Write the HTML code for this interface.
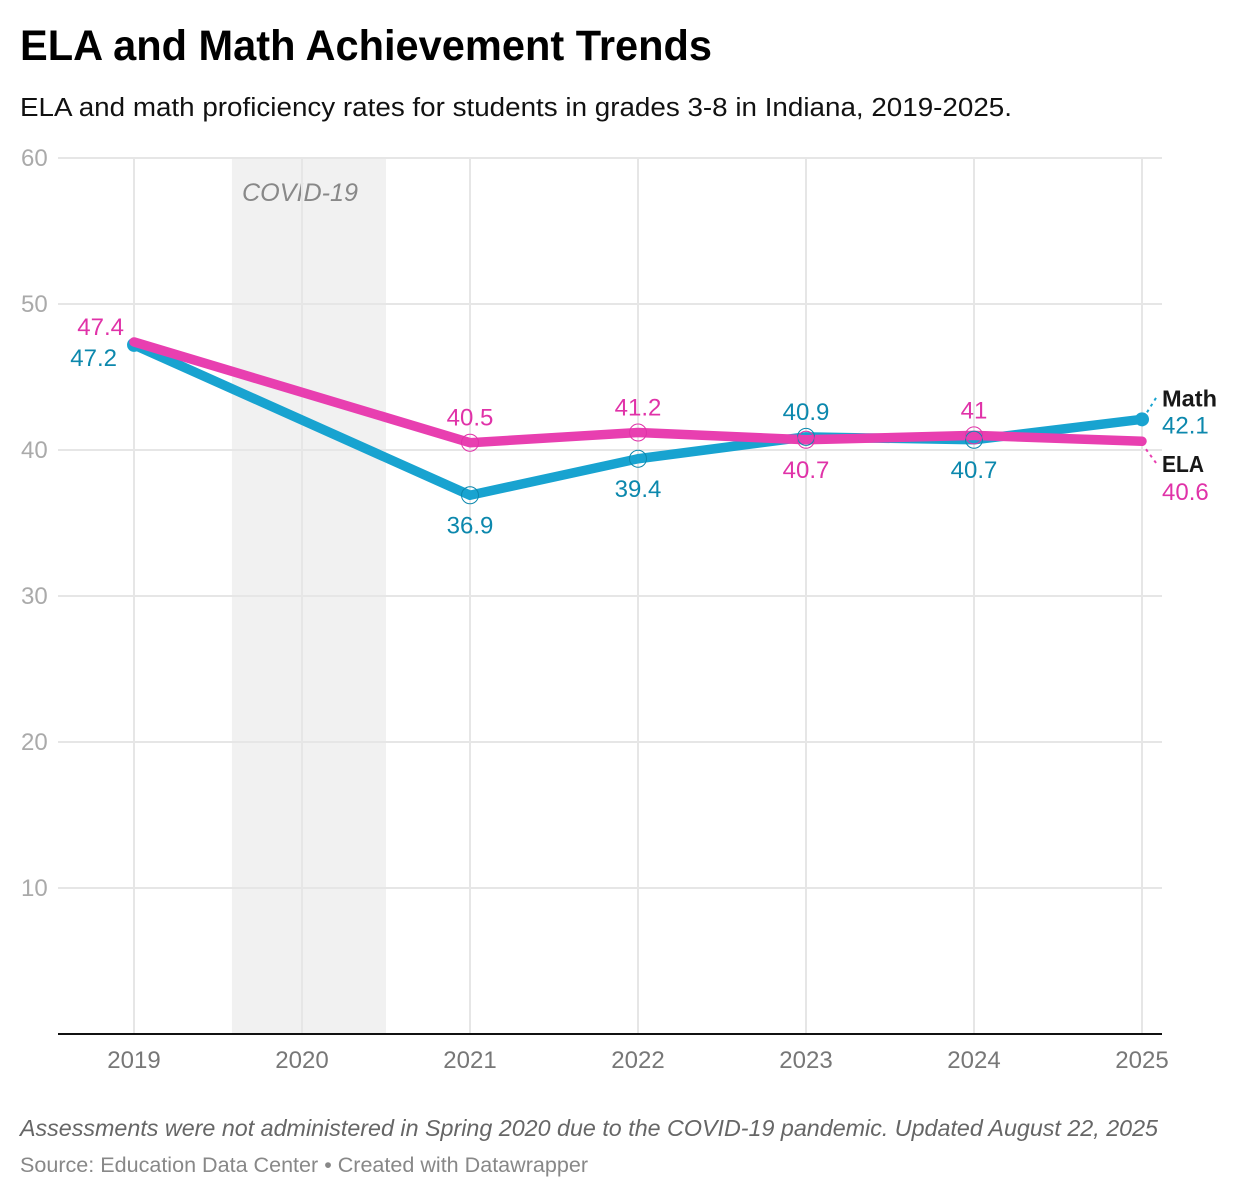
<!DOCTYPE html>
<html lang="en">
<head>
<meta charset="utf-8">
<title>ELA and Math Achievement Trends</title>
<style>
html,body{margin:0;padding:0;background:#fff;width:1238px;height:1198px;overflow:hidden}
svg{display:block}
text{font-family:"Liberation Sans",sans-serif}
</style>
</head>
<body>
<svg id="chart" width="1238" height="1198" viewBox="0 0 1238 1198" xmlns="http://www.w3.org/2000/svg">
  <text x="20" y="60" font-size="43" font-weight="700" fill="#000" textLength="692" lengthAdjust="spacingAndGlyphs">ELA and Math Achievement Trends</text>
  <text x="20" y="116" font-size="25.5" fill="#111" textLength="992" lengthAdjust="spacingAndGlyphs">ELA and math proficiency rates for students in grades 3-8 in Indiana, 2019-2025.</text>
  <g id="plot"></g>
  <text x="20" y="1136" font-size="23.5" font-style="italic" fill="#666" textLength="1138" lengthAdjust="spacingAndGlyphs">Assessments were not administered in Spring 2020 due to the COVID-19 pandemic. Updated August 22, 2025</text>
  <text x="20" y="1172" font-size="21.5" fill="#888" textLength="568" lengthAdjust="spacingAndGlyphs">Source: Education Data Center • Created with Datawrapper</text>
</svg>
<script>
var years = [2019, 2020, 2021, 2022, 2023, 2024, 2025];
var mathValues = [47.2, null, 36.9, 39.4, 40.9, 40.7, 42.1];
var elaValues = [47.4, null, 40.5, 41.2, 40.7, 41, 40.6];
var yTicks = [10, 20, 30, 40, 50, 60];
var covidBand = [2019.583, 2020.5];

var plot = document.getElementById('plot');
var NS = 'http://www.w3.org/2000/svg';
var MATH_LINE = '#18a3d0', MATH_TEXT = '#0c88ad', ELA_LINE = '#e83fb0', ELA_TEXT = '#e032a8';

function xScale(year) { return 134 + (year - 2019) * 168; }
function yScale(value) { return 1034 - value * 14.6; }

function make(tag, attrs, text) {
  var node = document.createElementNS(NS, tag);
  for (var key in attrs) node.setAttribute(key, attrs[key]);
  if (text !== undefined) node.textContent = text;
  plot.appendChild(node);
  return node;
}
var el;

// COVID band
el = make('rect', {x: xScale(covidBand[0]), y: yScale(60), width: xScale(covidBand[1]) - xScale(covidBand[0]), height: yScale(0) - yScale(60), fill: '#f1f1f1'});



el = make('text', {x: 242, y: 201, 'font-size': 25, 'font-style': 'italic', fill: '#888', textLength: 116, lengthAdjust: 'spacingAndGlyphs'}, 'COVID-19');



// Horizontal grid and y ticks
yTicks.forEach(function (tick) {
  el = make('line', {x1: 58, x2: 1162, y1: yScale(tick), y2: yScale(tick), stroke: '#e6e6e6', 'stroke-width': 2});
  
  
  el = make('text', {x: 21, y: yScale(tick) + 8, 'font-size': 24, fill: '#aaa'}, String(tick));
  
  
});

// Vertical grid and x ticks
years.forEach(function (year) {
  el = make('line', {x1: xScale(year), x2: xScale(year), y1: yScale(60), y2: yScale(0), stroke: '#e6e6e6', 'stroke-width': 2});
  
  
  el = make('text', {x: xScale(year), y: 1068, 'font-size': 24, fill: '#777', 'text-anchor': 'middle'}, String(year));
  
  
});

el = make('line', {x1: 58, x2: 1162, y1: yScale(0), y2: yScale(0), stroke: '#111', 'stroke-width': 2});



function linePoints(values) {
  var pts = [];
  values.forEach(function (v, i) {
    if (v !== null) pts.push(xScale(years[i]) + ',' + yScale(v));
  });
  return pts.join(' ');
}

// Math series
el = make('polyline', {points: linePoints(mathValues), fill: 'none', stroke: MATH_LINE, 'stroke-width': 9.5, 'stroke-linejoin': 'round', 'stroke-linecap': 'round'});



el = make('circle', {cx: xScale(years[0]), cy: yScale(mathValues[0]), r: 7, fill: MATH_LINE});



el = make('circle', {cx: xScale(years[6]), cy: yScale(mathValues[6]), r: 7, fill: MATH_LINE});



// ELA series
el = make('polyline', {points: linePoints(elaValues), fill: 'none', stroke: ELA_LINE, 'stroke-width': 9.5, 'stroke-linejoin': 'round', 'stroke-linecap': 'round'});



// Interior hollow markers and value labels
for (var i = 2; i <= 5; i++) {
  var mathAbove = mathValues[i] > elaValues[i];

  el = make('circle', {cx: xScale(years[i]), cy: yScale(mathValues[i]), r: 8.5, fill: 'none', stroke: MATH_TEXT, 'stroke-width': 1});
  
  

  el = make('circle', {cx: xScale(years[i]), cy: yScale(elaValues[i]), r: 8.5, fill: 'none', stroke: ELA_TEXT, 'stroke-width': 1});
  
  

  el = make('text', {x: xScale(years[i]), y: yScale(mathValues[i]) + (mathAbove ? -17 : 38), 'font-size': 24, fill: MATH_TEXT, 'text-anchor': 'middle'}, String(mathValues[i]));
  
  

  el = make('text', {x: xScale(years[i]), y: yScale(elaValues[i]) + (mathAbove ? 38 : -17), 'font-size': 24, fill: ELA_TEXT, 'text-anchor': 'middle'}, String(elaValues[i]));
  
  
}

// 2019 value labels
el = make('text', {x: xScale(years[0]) - 10, y: yScale(elaValues[0]) - 7, 'font-size': 24, fill: ELA_TEXT, 'text-anchor': 'end'}, String(elaValues[0]));



el = make('text', {x: xScale(years[0]) - 17, y: yScale(mathValues[0]) + 21, 'font-size': 24, fill: MATH_TEXT, 'text-anchor': 'end'}, String(mathValues[0]));



// End-of-line leaders and labels
var endX = xScale(years[6]);
var mathEndY = yScale(mathValues[6]);
var elaEndY = yScale(elaValues[6]);

el = make('line', {x1: endX + 5, y1: mathEndY - 7, x2: endX + 15, y2: mathEndY - 23, stroke: MATH_LINE, 'stroke-width': 2, 'stroke-dasharray': '3 4'});



el = make('line', {x1: endX + 4, y1: elaEndY + 8, x2: endX + 15, y2: elaEndY + 23, stroke: ELA_LINE, 'stroke-width': 2, 'stroke-dasharray': '3 4'});



el = make('text', {x: endX + 20, y: mathEndY - 13, 'font-size': 23, 'font-weight': 700, fill: '#181818', textLength: 55, lengthAdjust: 'spacingAndGlyphs'}, 'Math');



el = make('text', {x: endX + 20, y: mathEndY + 14, 'font-size': 24, fill: MATH_TEXT}, String(mathValues[6]));



el = make('text', {x: endX + 20, y: elaEndY + 31, 'font-size': 23, 'font-weight': 700, fill: '#181818', textLength: 42, lengthAdjust: 'spacingAndGlyphs'}, 'ELA');



el = make('text', {x: endX + 20, y: elaEndY + 59, 'font-size': 24, fill: ELA_TEXT}, String(elaValues[6]));


</script>
</body>
</html>
